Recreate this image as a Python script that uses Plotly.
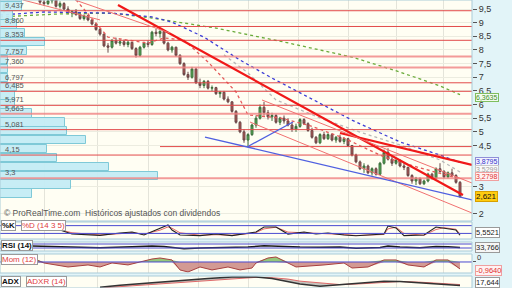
import plotly.graph_objects as go
import numpy as np

# ---------------- price data (candles) ----------------
cdl_idx = list(range(1, 116))
cdl_open = [9.40, 9.75, 10.05, 10.2, 10.3, 10.25, 10.1, 10.05, 9.98, 9.95, 9.75, 9.7, 9.8, 9.85, 9.6, 9.7, 9.5, 9.35, 9.4, 9.3,
            9.15, 9.25, 9.1, 8.95, 8.75, 8.58, 8.15, 8.1, 8.35, 8.25, 8.3, 8.2, 8.28, 8.05, 7.8, 8.1, 8.25, 8.2, 8.65, 8.6,
            8.68, 8.25, 8.0, 8.1, 7.8, 7.5, 7.1, 7.0, 7.3, 6.8, 6.7, 6.85, 6.6, 6.62, 6.4, 6.45, 6.2, 6.1, 5.75, 5.35,
            5.0, 4.7, 4.9, 5.25, 5.5, 5.9, 5.7, 5.55, 5.6, 5.35, 5.5, 5.4, 5.25, 5.1, 5.2, 5.45, 5.3, 5.05, 4.8, 4.6,
            4.9, 4.75, 4.9, 4.7, 4.8, 4.65, 4.75, 4.5, 4.15, 3.9, 3.65, 3.75, 3.5, 3.65, 3.45, 3.85, 4.25, 4.0, 3.85, 3.95,
            3.75, 3.7, 3.4, 3.2, 3.3, 3.1, 3.2, 3.45, 3.3, 3.65, 3.55, 3.35, 3.5, 3.4, 3.15]
cdl_high = [9.75, 10.15, 10.3, 10.4, 10.45, 10.35, 10.2, 10.15, 10.05, 10.0, 9.85, 9.88, 9.9, 9.9, 9.78, 9.75, 9.6, 9.45, 9.5, 9.38,
            9.3, 9.28, 9.12, 9.0, 8.8, 8.6, 8.25, 8.4, 8.45, 8.4, 8.38, 8.35, 8.3, 8.1, 8.15, 8.3, 8.35, 8.7, 8.78, 8.72,
            8.7, 8.3, 8.15, 8.12, 7.85, 7.55, 7.2, 7.38, 7.35, 6.95, 6.9, 6.9, 6.7, 6.65, 6.5, 6.5, 6.3, 6.12, 5.8, 5.4,
            5.1, 4.95, 5.3, 5.6, 6.0, 6.1, 5.8, 5.7, 5.65, 5.55, 5.6, 5.5, 5.35, 5.3, 5.5, 5.5, 5.35, 5.15, 4.85, 4.95,
            5.0, 4.95, 4.95, 4.85, 4.9, 4.8, 4.78, 4.52, 4.2, 3.95, 3.85, 3.8, 3.7, 3.7, 3.9, 4.35, 4.4, 4.1, 4.05, 4.0,
            3.85, 3.72, 3.45, 3.35, 3.32, 3.25, 3.5, 3.5, 3.7, 3.85, 3.6, 3.55, 3.65, 3.45, 3.2]
cdl_low = [9.35, 9.9, 10.0, 10.1, 10.15, 10.05, 9.95, 9.92, 9.88, 9.66, 9.62, 9.64, 9.7, 9.55, 9.52, 9.45, 9.3, 9.2, 9.25, 9.1,
           9.08, 9.05, 8.9, 8.7, 8.52, 8.1, 7.9, 8.05, 8.2, 8.15, 8.12, 8.1, 8.0, 7.72, 7.75, 8.05, 8.1, 8.15, 8.5, 8.45,
           8.2, 7.95, 7.9, 7.75, 7.45, 7.05, 6.9, 6.95, 6.75, 6.6, 6.6, 6.55, 6.5, 6.35, 6.25, 6.15, 6.05, 5.7, 5.3, 4.95,
           4.6, 4.45, 4.85, 5.15, 5.45, 5.6, 5.45, 5.4, 5.3, 5.25, 5.3, 5.2, 5.0, 5.0, 5.15, 5.25, 5.0, 4.75, 4.55, 4.55,
           4.7, 4.7, 4.65, 4.6, 4.6, 4.55, 4.45, 4.1, 3.85, 3.6, 3.5, 3.45, 3.4, 3.4, 3.42, 3.8, 3.95, 3.75, 3.8, 3.7,
           3.6, 3.35, 3.1, 3.05, 3.05, 3.05, 3.15, 3.25, 3.28, 3.5, 3.3, 3.3, 3.35, 3.1, 2.6]
cdl_close = [9.65, 10.05, 10.2, 10.3, 10.25, 10.1, 10.05, 9.98, 9.95, 9.75, 9.7, 9.8, 9.85, 9.6, 9.7, 9.5, 9.35, 9.4, 9.3, 9.15,
             9.25, 9.1, 8.95, 8.75, 8.58, 8.15, 8.1, 8.35, 8.25, 8.3, 8.2, 8.28, 8.05, 7.8, 8.1, 8.25, 8.2, 8.65, 8.6, 8.68,
             8.25, 8.0, 8.1, 7.8, 7.5, 7.1, 7.0, 7.3, 6.8, 6.7, 6.85, 6.6, 6.62, 6.4, 6.45, 6.2, 6.1, 5.75, 5.35, 5.0,
             4.7, 4.9, 5.25, 5.5, 5.9, 5.7, 5.55, 5.6, 5.35, 5.5, 5.4, 5.25, 5.1, 5.2, 5.45, 5.3, 5.05, 4.8, 4.6, 4.9,
             4.75, 4.9, 4.7, 4.8, 4.65, 4.75, 4.5, 4.15, 3.9, 3.65, 3.75, 3.5, 3.65, 3.45, 3.85, 4.25, 4.0, 3.85, 3.95, 3.75,
             3.7, 3.4, 3.2, 3.3, 3.1, 3.2, 3.45, 3.3, 3.65, 3.55, 3.35, 3.5, 3.4, 3.15, 2.621]

# moving averages
ma_blue_idx = [0, 11, 28, 38, 43, 51, 60, 68, 78, 88, 100, 110, 115]
ma_blue = [9.28, 9.39, 9.35, 9.21, 9.02, 8.47, 7.63, 6.97, 6.20, 5.43, 4.63, 4.15, 3.8795]
ma_green_idx = [0, 15, 28, 38, 54, 71, 88, 100, 110, 115]
ma_green = [9.21, 9.32, 9.35, 9.17, 8.80, 8.29, 7.74, 7.19, 6.68, 6.3635]
ma_red_idx = [18, 27, 32, 37, 41, 46, 52, 59, 62, 70, 77, 86, 96, 105, 115]
ma_red = [10.0, 8.47, 8.36, 8.25, 8.44, 8.36, 7.56, 6.46, 5.62, 5.51, 5.25, 4.77, 4.08, 3.68, 3.2798]
ma_gray_idx = [56, 62, 69, 80, 90, 100, 110, 115]
ma_gray = [7.82, 7.16, 6.17, 5.51, 4.99, 4.52, 3.97, 3.5299]

# horizontal support/resistance levels
level_vals = [9.437, 8.86, 8.353, 7.757, 7.360, 6.797, 6.485, 5.971, 5.663, 5.081, 4.15, 3.3]
level_text = ["9,437", "8,860", "8,353", "7,757", "7,360", "6,797", "6,485", "5,971", "5,663", "5,081", "4,15", "3,3"]
level_strong = [False, False, False, True, True, False, False, False, True, False, False, True]
partial_level_val = 4.46
partial_level_start = 40

# trend lines (time index, price)
trend_x0 = [29.5, 85, 18.75, 5.75, 65.5, 62.5, 51.25, 61.75]
trend_y0 = [9.647, 4.958, 9.83, 9.83, 6.167, 5.36, 4.811, 4.445]
trend_x1 = [115.75, 118, 42.5, 25, 118, 118, 118, 73.25]
trend_y1 = [2.687, 3.786, 8.62, 9.10, 3.126, 2.027, 2.504, 5.36]
trend_kind = ["thick", "thick", "thin", "thin", "thin", "thin", "blue", "blue"]

# volume profile
vp_price = [2.74, 3.066, 3.392, 3.718, 4.044, 4.37, 4.696, 5.022, 5.348, 5.674, 6.0, 6.326, 6.652, 6.978,
            7.304, 7.63, 7.956, 8.282, 8.608, 8.934, 9.26, 9.586, 9.912]
vp_volume = [32, 71, 158, 109, 57, 47, 86, 67, 65, 32, 15, 15, 17, 8, 8, 8, 27, 45, 25, 17, 13, 22, 22]

# month grid
month_idx = [11, 24.25, 37, 49.5, 62, 74.5, 87, 99, 110.75]

# price axis ticks shown (others sit under the value boxes)
price_ticks = [2, 3, 4.5, 5, 5.5, 6, 6.5, 7, 7.5, 8, 8.5, 9, 9.5]
price_tick_text = ["2", "3", "4,5", "5", "5,5", "6", "6,5", "7", "7,5", "8", "8,5", "9", "9,5"]

# stochastic
sto_idx = [8, 15, 18, 25, 30, 33, 36, 40, 42, 43, 45, 50, 54, 58, 62, 64, 66, 69, 72, 76, 79, 82, 86, 89, 92, 96, 97, 99, 101, 106, 109, 111, 114, 115]
sto_k = [54, 46, 15, 5, 23, 31, 8, 62, 85, 46, 8, 3, 15, 3, 23, 31, 69, 69, 15, 31, 15, 23, 8, 2, 8, 15, 77, 62, 3, 8, 69, 62, 46, 5.5521]
sto_d = [50, 48, 25, 8, 18, 26, 15, 45, 70, 60, 25, 6, 10, 6, 18, 27, 55, 68, 30, 25, 20, 20, 12, 4, 6, 12, 55, 68, 20, 6, 50, 64, 52, 15]
# RSI
rsi_idx = [8, 17, 25, 33, 38, 41, 46, 50, 58, 62, 66, 70, 75, 80, 85, 89, 95, 97, 100, 105, 109, 112, 115]
rsi_val = [50, 43, 33, 42, 50, 45, 22, 30, 33, 40, 52, 45, 40, 38, 40, 28, 36, 50, 40, 32, 45, 42, 33.766]
# Momentum
mom_idx = [8, 11, 17, 22, 25, 28, 32, 35, 38, 40, 43, 45, 47, 50, 53, 57, 60, 63, 64, 67, 69, 72, 74, 81, 86, 88, 92, 96, 99, 102, 106, 109, 112, 115]
mom_val = [0.55, -0.14, -0.69, -0.41, -0.69, -0.14, -0.41, 0, 0.41, 0.55, 0.28, -1.1, -1.38, -0.69, -1.1, -0.69, -1.1, -0.83, -0.14, 0.55,
           0.69, -0.14, -0.69, -0.41, -0.14, -0.83, -0.69, 0.28, 0.28, -0.41, -0.69, 0.28, 0.28, -0.964]
# ADX
adx_idx = [25, 30, 38, 45, 52, 58, 64, 68, 72, 75, 80, 85, 90, 96, 100, 105, 110, 115]
adx_val = [12, 18, 25, 32, 38, 42, 42, 38, 30, 22, 15, 20, 26, 30, 29, 25, 21, 17.644]
adxr_val = [10, 14, 20, 26, 32, 38, 41, 40, 36, 30, 24, 20, 22, 27, 29, 27, 24, 20]

FONT = "Liberation Sans"
fig = go.Figure()

# volume profile bars (behind)
fig.add_trace(go.Bar(y=vp_price, x=vp_volume, orientation="h", xaxis="x2", yaxis="y", width=0.31,
                     marker=dict(color="rgba(196,236,244,0.95)", line=dict(color="#7fc9d7", width=1)),
                     hoverinfo="skip", showlegend=False))

# moving averages
for xs, ys, col in [(ma_green_idx, ma_green, "#6aab3a"), (ma_blue_idx, ma_blue, "#3b3bd6"),
                    (ma_gray_idx, ma_gray, "#b8b8b8"), (ma_red_idx, ma_red, "#e45a5a")]:
    fig.add_trace(go.Scatter(x=xs, y=ys, mode="lines", line=dict(color=col, width=1.3, dash="3px,3px"),
                             xaxis="x", yaxis="y", showlegend=False, hoverinfo="skip"))

# candles
fig.add_trace(go.Candlestick(x=cdl_idx, open=cdl_open, high=cdl_high, low=cdl_low, close=cdl_close,
                             xaxis="x", yaxis="y", whiskerwidth=0,
                             increasing=dict(line=dict(color="#3d6e3d", width=1), fillcolor="#55b055"),
                             decreasing=dict(line=dict(color="#6a4a4a", width=1), fillcolor="#b4534f"),
                             showlegend=False))

# stochastic
fig.add_trace(go.Scatter(x=sto_idx, y=sto_d, mode="lines", line=dict(color="#e86a6a", width=1), xaxis="x", yaxis="y2", showlegend=False))
fig.add_trace(go.Scatter(x=sto_idx, y=sto_k, mode="lines", line=dict(color="#222222", width=1.1), xaxis="x", yaxis="y2", showlegend=False))
# RSI
fig.add_trace(go.Scatter(x=rsi_idx, y=rsi_val, mode="lines", line=dict(color="#1a1a1a", width=1.5), xaxis="x", yaxis="y3", showlegend=False))
# momentum
mom_arr = np.array(mom_val)
fig.add_trace(go.Scatter(x=mom_idx, y=np.minimum(mom_arr, 0), mode="lines", line=dict(width=0), fill="tozeroy",
                         fillcolor="rgba(196,120,115,0.75)", xaxis="x", yaxis="y4", showlegend=False))
fig.add_trace(go.Scatter(x=mom_idx, y=np.maximum(mom_arr, 0), mode="lines", line=dict(width=0), fill="tozeroy",
                         fillcolor="rgba(130,190,100,0.85)", xaxis="x", yaxis="y4", showlegend=False))
fig.add_trace(go.Scatter(x=mom_idx, y=mom_val, mode="lines", line=dict(color="#a84040", width=1), xaxis="x", yaxis="y4", showlegend=False))
# ADX
fig.add_trace(go.Scatter(x=adx_idx, y=adxr_val, mode="lines", line=dict(color="#e06a6a", width=1), xaxis="x", yaxis="y5", showlegend=False))
fig.add_trace(go.Scatter(x=adx_idx, y=adx_val, mode="lines", line=dict(color="#333333", width=1.5), fill="tonexty",
                         fillcolor="rgba(140,140,140,0.5)", xaxis="x", yaxis="y5", showlegend=False))

shapes = []
for v, strong in zip(level_vals, level_strong):
    shapes.append(dict(type="line", xref="x domain", yref="y", x0=0, x1=1, y0=v, y1=v,
                       line=dict(color="rgba(240,130,130,0.8)" if strong else "#e24a4a", width=2 if strong else 1)))
shapes.append(dict(type="line", xref="x", yref="y", x0=partial_level_start, x1=118, y0=partial_level_val, y1=partial_level_val,
                   line=dict(color="#e24a4a", width=1)))
for x0, y0, x1, y1, k in zip(trend_x0, trend_y0, trend_x1, trend_y1, trend_kind):
    if k == "thick":
        ln = dict(color="#f01818", width=2.2)
    elif k == "thin":
        ln = dict(color="#f07070", width=1)
    else:
        ln = dict(color="#5060e0", width=1.3)
    shapes.append(dict(type="line", xref="x", yref="y", x0=x0, y0=y0, x1=x1, y1=y1, line=ln))
for yr, v in [("y2", 80), ("y2", 20), ("y3", 70), ("y3", 30), ("y4", 0)]:
    shapes.append(dict(type="line", xref="x domain", yref=yr, x0=0, x1=1, y0=v, y1=v, line=dict(color="#4a4ad0", width=1)))
for yr in ["y", "y2", "y3", "y4", "y5"]:
    shapes.append(dict(type="rect", xref="paper", yref=yr + " domain", x0=0, x1=1, y0=0, y1=1,
                       line=dict(color="#a9cbd8", width=1)))

annotations = []
for v, t in zip(level_vals, level_text):
    annotations.append(dict(xref="paper", yref="y", x=0.006, y=v, text=t, showarrow=False, xanchor="left", yanchor="bottom",
                            font=dict(family=FONT, size=7.5, color="#555"), yshift=-1))
annotations.append(dict(xref="paper", yref="paper", x=0.004, y=1 - 213 / 288, text="© ProRealTime.com  Históricos ajustados con dividendos",
                        showarrow=False, xanchor="left", yanchor="middle", font=dict(family=FONT, size=8.5, color="#555")))


def box(x, y, text, color, yref="paper", bg="white", border="#9a9a9a", xanchor="left", yanchor="middle",
        yshift=0, xshift=0, size=8, borderwidth=1):
    annotations.append(dict(xref="paper", yref=yref, x=x, y=y, text=text, showarrow=False, xanchor=xanchor, yanchor=yanchor,
                            font=dict(family=FONT, size=size, color=color), bgcolor=bg, bordercolor=border,
                            borderwidth=borderwidth, borderpad=0, yshift=yshift, xshift=xshift))


# panel titles
box(0.002, 1 - 225 / 288, "<b>%K</b>", "#111")
box(0.045, 1 - 225 / 288, "%D (14 3 5)", "#e04040")
box(0.002, 1 - 245 / 288, "<b>RSI (14)</b>", "#111")
box(0.002, 1 - 259 / 288, "Mom (12)", "#e04040")
box(0.002, 1 - 281 / 288, "<b>ADX</b>", "#111")
box(0.055, 1 - 281 / 288, "ADXR (14)", "#e04040")

# right value labels (main)
box(1.0, 6.3635, "6,3635", "#3f8f2a", yref="y", bg="#f3fbef", border="#7fbf5f", xshift=3, size=7, yshift=-3)
box(1.0, 3.8795, "3,8795", "#3535c8", yref="y", bg="#f2f2ff", border="#9090d8", xshift=3, size=7, yshift=1)
box(1.0, 3.5299, "3,5299", "#a0a0a0", yref="y", bg="#fafafa", border="#c8c8c8", xshift=3, size=7, yshift=2)
box(1.0, 3.2798, "3,2798", "#e03030", yref="y", bg="#fff2f2", border="#f0a0a0", xshift=3, size=7, yshift=2)
box(1.0, 2.621, "2,621", "#111", yref="y", bg="#ffcc10", border="#d8a000", xshift=3, size=8)
# indicator value labels
box(1.0, 5.5521, "5,5521", "#222", yref="y2", bg="#ffffff", border="#9a9a9a", xshift=3, yshift=3, size=7.5)
box(1.0, 33.766, "33,766", "#222", yref="y3", bg="#f6f6f6", border="#9a9a9a", xshift=3, size=7.5)
box(1.0, 0, "0", "#333", yref="y4", bg="rgba(0,0,0,0)", border="rgba(0,0,0,0)", xshift=5, yanchor="bottom",
    size=7.5, borderwidth=0)
box(1.0, -0.45, "-0,9640", "#e03030", yref="y4", bg="#fff2f2", border="#f0a0a0", xshift=3, yanchor="top", size=7.5)
box(1.0, 0.5, "17,644", "#222", yref="y5 domain", bg="#ffffff", border="#9a9a9a", xshift=3, size=7.5)

tickfont = dict(family=FONT, size=9, color="#333")
fig.update_layout(
    width=512, height=288, margin=dict(l=0, r=40, t=0, b=0),
    paper_bgcolor="#e2f4f8", plot_bgcolor="#fffef3",
    separators=",.", showlegend=False, bargap=0,
    shapes=shapes, annotations=annotations,
    xaxis=dict(domain=[0, 1], range=[0, 118], tickvals=month_idx, showticklabels=False, showgrid=True,
               gridcolor="#e4e4da", gridwidth=1, zeroline=False, rangeslider=dict(visible=False), anchor="y", ticks=""),
    xaxis2=dict(overlaying="x", range=[0, 472], visible=False, anchor="y"),
    yaxis=dict(domain=[1 - 221 / 288, 1], range=[1.7344, 9.8297], side="right",
               tickvals=price_ticks, ticktext=price_tick_text,
               ticks="outside", ticklen=4, tickcolor="#555", tickfont=tickfont, showgrid=True, gridcolor="#ecece0",
               zeroline=False, anchor="x"),
    yaxis2=dict(domain=[1 - 239 / 288, 1 - 222 / 288], range=[-23, 108], showticklabels=False, showgrid=False,
                zeroline=False, side="right", anchor="x"),
    yaxis3=dict(domain=[1 - 251 / 288, 1 - 242 / 288], range=[0, 90], showticklabels=False, showgrid=False,
                zeroline=False, side="right", anchor="x"),
    yaxis4=dict(domain=[1 - 273 / 288, 1 - 254 / 288], range=[-1.52, 1.1], tickvals=[0], showticklabels=False,
                ticks="outside", ticklen=3, tickcolor="#555", showgrid=False, zeroline=False, side="right", anchor="x"),
    yaxis5=dict(domain=[0, 1 - 276 / 288], range=[10, 45], showticklabels=False, showgrid=False,
                zeroline=False, side="right", anchor="x"),
)

fig.write_html("out.html")
